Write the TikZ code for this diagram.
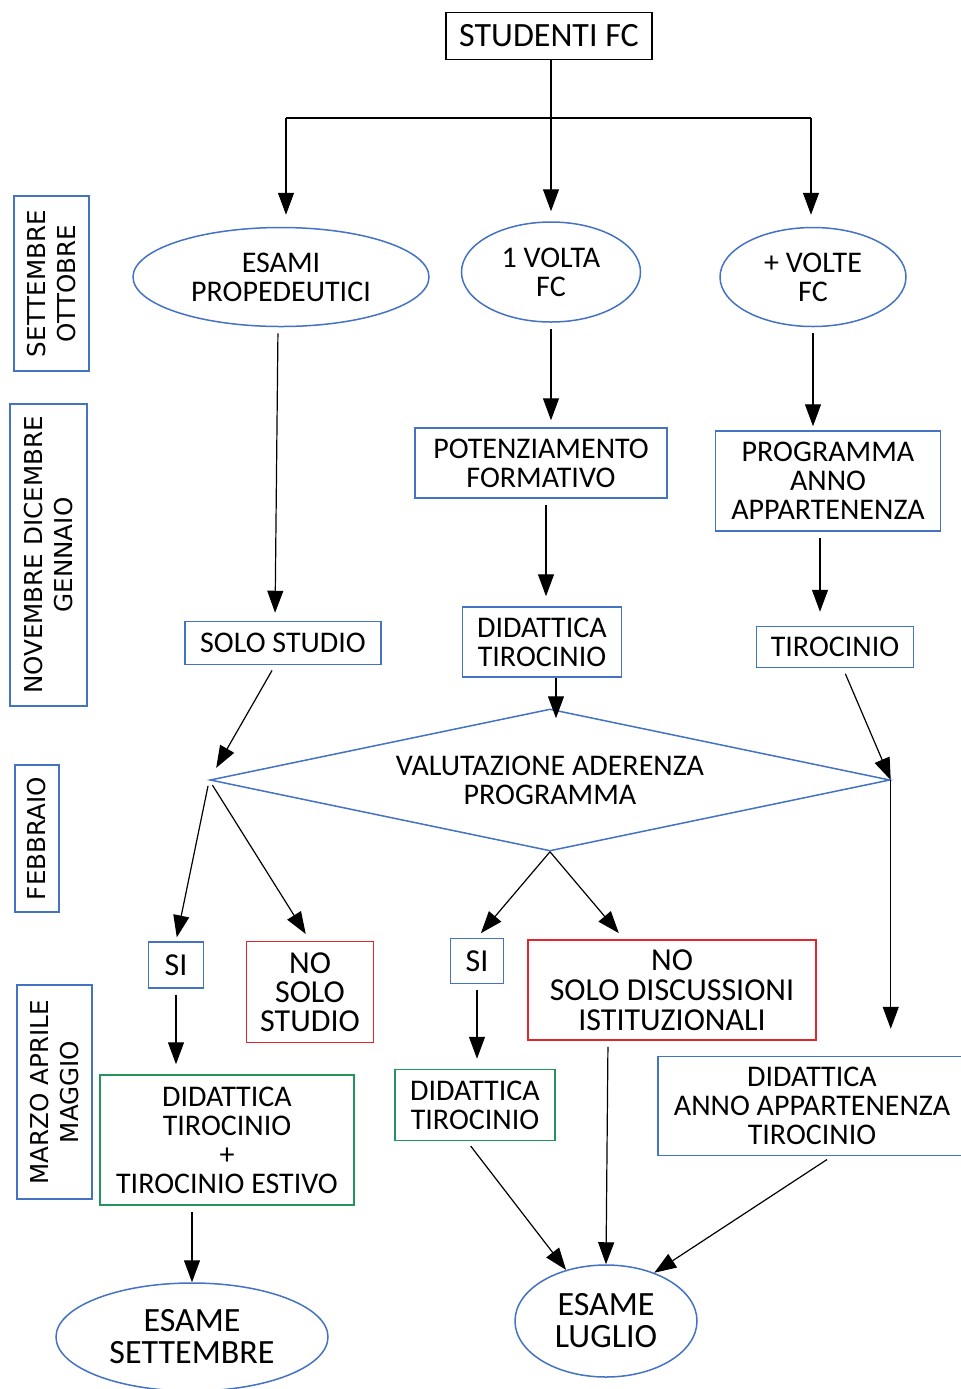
\documentclass[tikz,border=0pt]{standalone}
\usepackage{fontspec}
\setmainfont{Carlito}
\newfontfamily\monthfont{DejaVu Sans}
\usetikzlibrary{arrows.meta,shapes.geometric}

\definecolor{boxblue}{HTML}{4472C4}
\definecolor{boxred}{HTML}{E3262E}
\definecolor{boxgreen}{HTML}{23955A}

\tikzset{
  box/.style={draw=boxblue, line width=0.75pt, fill=white, align=center, inner sep=0pt, font=\fontsize{15}{14.5}\selectfont},
  oval/.style={box, ellipse},
  nobox/.style={box, draw=boxred},
  yesbox/.style={box, draw=boxgreen},
  bigtext/.style={font=\fontsize{17}{16}\selectfont},
  month/.style={draw=boxblue, line width=0.75pt, align=center, inner sep=0pt, rotate=90, font=\monthfont\fontsize{12.3}{15}\selectfont},
  flow/.style={line width=0.6pt, -{Triangle[length=11pt,width=8pt]}, shorten >=4pt, shorten <=3pt},
}

\begin{document}
\begin{tikzpicture}[x=0.5pt,y=-0.5pt]
\useasboundingbox (0,0) rectangle (960,1389);

% mesi
\node[month, minimum width=87.5pt, minimum height=37.5pt] (m1) at (51.5,283.5) {SETTEMBRE\\OTTOBRE};
\node[month, minimum width=151pt, minimum height=38.5pt] (m2) at (48.5,555) {NOVEMBRE DICEMBRE\\GENNAIO};
\node[month, minimum width=73.5pt, minimum height=22pt] (m3) at (37,838.5) {FEBBRAIO};
\node[month, minimum width=107pt, minimum height=37.5pt] (m4) at (54.5,1092) {MARZO APRILE\\MAGGIO};

% nodi
\node[box, bigtext, draw=black, minimum width=103pt, minimum height=23.5pt] (top) at (549,36) {STUDENTI FC};
\node[oval, minimum width=148pt, minimum height=49.5pt] (exams) at (281,277) {ESAMI\\PROPEDEUTICI};
\node[oval, minimum width=89.5pt, minimum height=50pt] (once) at (551,272) {1 VOLTA\\FC};
\node[oval, minimum width=93pt, minimum height=49.5pt] (more) at (813,277) {+ VOLTE\\FC};

\node[box, minimum width=98pt, minimum height=21.5pt] (study) at (283,643) {SOLO STUDIO};
\node[box, minimum width=126pt, minimum height=35pt] (boost) at (541,463) {POTENZIAMENTO\\FORMATIVO};
\node[box, minimum width=112.5pt, minimum height=50pt] (prog) at (828,481) {PROGRAMMA\\ANNO\\APPARTENENZA};
\node[box, minimum width=79.5pt, minimum height=35pt] (teach1) at (542,642) {DIDATTICA\\TIROCINIO};
\node[box, minimum width=78.5pt, minimum height=20.5pt] (intern) at (835,647) {TIROCINIO};

\node[diamond, draw=boxblue, line width=0.75pt, fill=white, inner sep=0pt, minimum width=340pt, minimum height=71pt] (eval) at (550,780) {};
\node[box, draw=none, fill=none] (evaltext) at (eval) {VALUTAZIONE ADERENZA\\PROGRAMMA};

\node[box, font=\fontsize{16}{15}\selectfont, minimum width=27.5pt, minimum height=23pt] (si1) at (176,965) {SI};
\node[nobox, font=\fontsize{16}{14.5}\selectfont, minimum width=63.5pt, minimum height=50.5pt] (no1) at (310,992) {NO\\SOLO\\STUDIO};
\node[box, font=\fontsize{16}{15}\selectfont, minimum width=26.5pt, minimum height=22.5pt] (si2) at (477,961) {SI};
\node[nobox, font=\fontsize{16}{15}\selectfont, minimum width=144pt, minimum height=50pt] (no2) at (672,990) {NO\\SOLO DISCUSSIONI\\ISTITUZIONALI};

\node[yesbox, minimum width=127pt, minimum height=65pt] (teach2) at (227,1140) {DIDATTICA\\TIROCINIO\\+\\TIROCINIO ESTIVO};
\node[yesbox, minimum width=80pt, minimum height=35.5pt] (teach3) at (475,1105) {DIDATTICA\\TIROCINIO};
\node[box, minimum width=154pt, minimum height=49.5pt] (teach4) at (812,1106) {DIDATTICA\\ANNO APPARTENENZA\\TIROCINIO};

\node[oval, bigtext, minimum width=136pt, minimum height=54pt] (sept) at (192,1337) {ESAME\\SETTEMBRE};
\node[oval, bigtext, minimum width=91pt, minimum height=56pt] (july) at (606,1321) {ESAME\\LUGLIO};

% collegamenti
\coordinate (split) at (551,118);
\coordinate (splitL) at (286,118);
\coordinate (splitR) at (811,118);
\draw[line width=0.6pt] (split |- top.south) -- (split);
\draw[line width=0.6pt] (splitL) -- (splitR);
\draw[flow, shorten <=0pt, shorten >=6pt] (splitL) -- (splitL |- exams.north);
\draw[flow, shorten <=0pt, shorten >=5pt] (split) -- (once.north);
\draw[flow, shorten <=0pt, shorten >=6pt] (splitR) -- (splitR |- more.north);

\draw[flow] ([xshift=-1.5pt]exams.south) -- ([xshift=-4pt]study.north);
\draw[flow, shorten >=3.5pt] (once.south) -- (once.south |- boost.north);
\draw[flow, shorten >=2pt] (more.south) -- (more.south |- prog.north);
\draw[flow, shorten >=5pt] ([xshift=2.5pt]boost.south) -- ([xshift=2.5pt]boost.south |- teach1.north);
\draw[flow, shorten >=7pt] ([xshift=-4pt]prog.south) -- ([xshift=-4pt]prog.south |- intern.north);

\draw[flow, shorten <=0pt, shorten >=-5pt] ([xshift=7pt]teach1.south) -- ([xshift=7pt]teach1.south |- eval.north);
\draw[flow, shorten >=7pt] ([xshift=-4pt]study.south) -- (eval.west);
\draw[flow, shorten >=0pt] ([xshift=4pt]intern.south) -- (eval.east);
\draw[flow, shorten <=0pt, shorten >=13.5pt] (eval.east) -- (eval.east |- teach4.north);

\draw[flow, shorten >=2pt] (eval.west) -- (si1.north);
\draw[flow] (eval.west) -- (no1.north);
\draw[flow, shorten <=0pt, shorten >=3pt] (eval.south) -- (si2.north);
\draw[flow, shorten <=0pt] (eval.south) -- ([xshift=-24pt]no2.north);

\draw[flow, shorten >=5pt] (si1.south) -- (si1.south |- teach2.north);
\draw[flow, shorten >=5pt] (si2.south) -- (si2.south |- teach3.north);
\draw[flow, shorten >=0pt] (sept.north |- teach2.south) -- (sept.north);

\draw[flow, shorten >=0pt] ([xshift=-4pt]teach3.south) -- (july.128);
\draw[flow, shorten >=0pt] ([xshift=-32pt]no2.south) -- (july.north);
\draw[flow, shorten >=0pt] ([xshift=10pt]teach4.south) -- (july.45);
\end{tikzpicture}
\end{document}
